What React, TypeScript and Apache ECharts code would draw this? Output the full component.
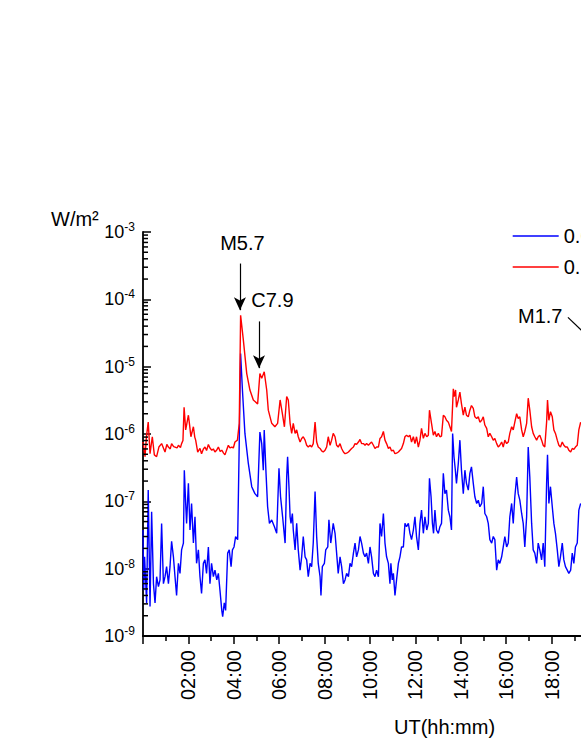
import React, { useEffect, useRef } from "react";
import * as echarts from "echarts";

const FONT = "'Liberation Sans', Arial, sans-serif";

// 0.1-0.8 nm (red)
const redTime = [
  0.0, 0.09, 0.15, 0.23, 0.31, 0.41, 0.5, 0.6, 0.7, 0.82, 0.97, 1.05, 1.12, 1.2, 1.26, 1.35, 1.41, 1.5, 1.56, 1.65,
  1.7, 1.76, 1.81, 1.88, 2.0, 2.06, 2.11, 2.22, 2.28, 2.32, 2.41, 2.51, 2.58, 2.66, 2.73, 2.8, 2.88, 2.95, 3.03, 3.1,
  3.17, 3.25, 3.32, 3.4, 3.47, 3.55, 3.61, 3.7, 3.76, 3.83, 3.91, 3.98, 4.05, 4.16, 4.24, 4.3, 4.42, 4.57, 4.71, 4.86,
  5.05, 5.15, 5.23, 5.34, 5.45, 5.52, 5.67, 5.81, 5.93, 6.04, 6.14, 6.23, 6.33, 6.4, 6.48, 6.55, 6.62, 6.7, 6.77, 6.84,
  6.92, 6.99, 7.06, 7.14, 7.21, 7.28, 7.36, 7.43, 7.5, 7.58, 7.65, 7.72, 7.8, 7.87, 7.94, 8.02, 8.09, 8.16, 8.24, 8.31,
  8.38, 8.46, 8.53, 8.6, 8.68, 8.75, 8.83, 8.9, 8.97, 9.05, 9.12, 9.19, 9.27, 9.34, 9.41, 9.49, 9.56, 9.63, 9.71, 9.78,
  9.85, 9.93, 10.0, 10.07, 10.15, 10.22, 10.29, 10.37, 10.44, 10.51, 10.59, 10.66, 10.73, 10.81, 10.88, 10.95, 11.03, 11.1, 11.17, 11.25,
  11.32, 11.39, 11.47, 11.54, 11.61, 11.69, 11.76, 11.83, 11.91, 11.98, 12.05, 12.13, 12.2, 12.27, 12.35, 12.42, 12.5, 12.57, 12.62, 12.71,
  12.79, 12.86, 12.93, 13.01, 13.08, 13.15, 13.23, 13.3, 13.37, 13.45, 13.52, 13.59, 13.67, 13.71, 13.77, 13.81, 13.89, 13.96, 14.03, 14.11,
  14.18, 14.25, 14.33, 14.4, 14.47, 14.55, 14.62, 14.7, 14.77, 14.84, 14.92, 14.99, 15.06, 15.14, 15.21, 15.28, 15.36, 15.43, 15.5, 15.58,
  15.65, 15.72, 15.8, 15.87, 15.94, 16.02, 16.09, 16.16, 16.24, 16.31, 16.38, 16.46, 16.53, 16.6, 16.68, 16.75, 16.82, 16.9, 16.97, 17.04,
  17.12, 17.19, 17.26, 17.34, 17.41, 17.48, 17.56, 17.63, 17.7, 17.78, 17.82, 17.88, 17.95, 18.03, 18.1, 18.17, 18.25, 18.32, 18.39, 18.47,
  18.54, 18.61, 18.69, 18.76, 18.84, 18.91, 18.98, 19.05, 19.13, 19.2, 19.28,
];
const redFlux = [
  7.6e-7, 4.6e-7, 9e-7, 1.5e-6, 5.1e-7, 9.1e-7, 4.9e-7, 4.6e-7, 6.4e-7, 7.2e-7, 5.4e-7, 7e-7, 6.4e-7, 6e-7, 7.2e-7, 6.5e-7, 6.4e-7, 6.2e-7, 6.8e-7, 6.3e-7,
  7.2e-7, 8e-7, 2.5e-6, 1.15e-6, 1.9e-6, 1.3e-6, 9.1e-7, 1.28e-6, 9e-7, 8.1e-7, 5.4e-7, 6.1e-7, 5.1e-7, 6e-7, 6.4e-7, 5.7e-7, 7e-7, 6.2e-7, 5.75e-7, 6e-7,
  5.4e-7, 5.8e-7, 6.4e-7, 5.5e-7, 5.75e-7, 5.2e-7, 4.9e-7, 6e-7, 6.8e-7, 6.2e-7, 6.4e-7, 6.2e-7, 7.6e-7, 8.1e-7, 1.44e-6, 5.8e-5, 2.5e-5, 7.9e-6, 4.5e-6, 3.2e-6,
  2.8e-6, 7.9e-6, 6.7e-6, 8.4e-6, 4.5e-6, 2.26e-6, 1.44e-6, 1.28e-6, 1.44e-6, 3.2e-6, 2.0e-6, 1.28e-6, 3.6e-6, 3.2e-6, 1.44e-6, 1.02e-6, 1.44e-6, 1.02e-6, 1.15e-6, 9.1e-7,
  7.6e-7, 8.6e-7, 9.1e-7, 8.1e-7, 6.8e-7, 6.4e-7, 6.8e-7, 6.4e-7, 7.2e-7, 1.5e-6, 7.6e-7, 6.4e-7, 6.1e-7, 5.6e-7, 5.4e-7, 5.75e-7, 6.4e-7, 9.1e-7, 6.8e-7, 8.1e-7,
  1.02e-6, 9.1e-7, 6.8e-7, 6.4e-7, 7.2e-7, 6.1e-7, 5.4e-7, 5.1e-7, 5.2e-7, 5.4e-7, 5.75e-7, 6.1e-7, 6.4e-7, 7.2e-7, 7e-7, 7.6e-7, 8.3e-7, 7.2e-7, 7.2e-7, 6.8e-7,
  7.2e-7, 6.8e-7, 7.2e-7, 7.6e-7, 6.8e-7, 6.1e-7, 6.4e-7, 6.4e-7, 8.6e-7, 9.1e-7, 1.09e-6, 8.1e-7, 7.2e-7, 6.1e-7, 6.4e-7, 5.6e-7, 5.75e-7, 5.1e-7, 5.2e-7, 5.4e-7,
  5.75e-7, 6.1e-7, 7.2e-7, 9.1e-7, 9.6e-7, 9.1e-7, 9.6e-7, 7.6e-7, 9.1e-7, 7.2e-7, 9.1e-7, 6.4e-7, 8.1e-7, 1.21e-6, 8.6e-7, 1.02e-6, 9.1e-7, 9.6e-7, 2.26e-6, 1.44e-6,
  9.6e-7, 1.09e-6, 9.1e-7, 1.02e-6, 9.1e-7, 9.3e-7, 1.9e-6, 1.8e-6, 1.6e-6, 1.5e-6, 1.28e-6, 1.09e-6, 4.7e-6, 3.6e-6, 4.5e-6, 2.5e-6, 3.2e-6, 4.2e-6, 2.8e-6, 1.9e-6,
  2.5e-6, 1.9e-6, 1.8e-6, 2.26e-6, 2.65e-6, 2.4e-6, 1.8e-6, 1.7e-6, 1.8e-6, 1.5e-6, 1.6e-6, 1.8e-6, 1.36e-6, 1.21e-6, 9.1e-7, 1.02e-6, 9.1e-7, 8.1e-7, 8.6e-7, 7.2e-7,
  6.4e-7, 6.8e-7, 7.6e-7, 6.4e-7, 8.1e-7, 7.2e-7, 7.6e-7, 1.02e-6, 1.28e-6, 1.15e-6, 1.5e-6, 2.0e-6, 1.7e-6, 1.8e-6, 1.15e-6, 9.1e-7, 1.09e-6, 1.44e-6, 3.4e-6, 2.26e-6,
  1.28e-6, 1.02e-6, 9.1e-7, 8.1e-7, 9.1e-7, 9.6e-7, 8.1e-7, 6.8e-7, 6.4e-7, 1.5e-6, 3.2e-6, 1.6e-6, 2.15e-6, 1.8e-6, 1.15e-6, 1.02e-6, 8.1e-7, 6.8e-7, 6.4e-7, 7.6e-7,
  6.8e-7, 6.4e-7, 6.4e-7, 5.75e-7, 5.4e-7, 6.1e-7, 5.9e-7, 6.4e-7, 6.8e-7, 1.15e-6, 1.5e-6,
];

// 0.05-0.4 nm (blue)
const blueTime = [
  0.0, 0.03, 0.07, 0.16, 0.23, 0.31, 0.38, 0.46, 0.53, 0.6, 0.68, 0.75, 0.82, 0.9, 0.97, 1.04, 1.12, 1.19, 1.26, 1.34,
  1.41, 1.48, 1.56, 1.63, 1.7, 1.78, 1.82, 1.88, 1.92, 2.0, 2.07, 2.14, 2.22, 2.29, 2.36, 2.44, 2.51, 2.58, 2.66, 2.73,
  2.8, 2.88, 2.95, 3.02, 3.1, 3.17, 3.25, 3.32, 3.39, 3.47, 3.51, 3.58, 3.64, 3.73, 3.8, 3.88, 3.94, 4.01, 4.08, 4.17,
  4.23, 4.3, 4.38, 4.49, 4.64, 4.79, 4.93, 5.05, 5.15, 5.23, 5.3, 5.34, 5.42, 5.49, 5.57, 5.67, 5.79, 5.89, 5.99, 6.06,
  6.15, 6.26, 6.33, 6.37, 6.43, 6.48, 6.52, 6.58, 6.62, 6.7, 6.77, 6.84, 6.92, 6.99, 7.06, 7.14, 7.21, 7.28, 7.36, 7.43,
  7.5, 7.58, 7.65, 7.72, 7.8, 7.84, 7.9, 7.99, 8.05, 8.14, 8.19, 8.27, 8.31, 8.38, 8.46, 8.53, 8.6, 8.68, 8.75, 8.83,
  8.9, 8.97, 9.05, 9.12, 9.19, 9.27, 9.34, 9.41, 9.49, 9.56, 9.63, 9.71, 9.78, 9.85, 9.93, 10.0, 10.07, 10.15, 10.22, 10.29,
  10.37, 10.44, 10.51, 10.59, 10.66, 10.73, 10.81, 10.88, 10.92, 10.98, 11.03, 11.1, 11.17, 11.25, 11.32, 11.39, 11.47, 11.54, 11.61, 11.69,
  11.76, 11.83, 11.91, 11.98, 12.05, 12.13, 12.2, 12.27, 12.35, 12.42, 12.5, 12.57, 12.62, 12.69, 12.75, 12.8, 12.86, 12.93, 13.01, 13.08,
  13.15, 13.23, 13.3, 13.37, 13.45, 13.52, 13.59, 13.64, 13.7, 13.76, 13.81, 13.89, 13.96, 14.03, 14.11, 14.18, 14.25, 14.33, 14.4, 14.47,
  14.55, 14.62, 14.7, 14.77, 14.84, 14.92, 14.99, 15.06, 15.14, 15.21, 15.28, 15.36, 15.43, 15.5, 15.58, 15.65, 15.72, 15.8, 15.87, 15.94,
  16.02, 16.09, 16.16, 16.24, 16.31, 16.38, 16.46, 16.53, 16.6, 16.68, 16.75, 16.82, 16.9, 16.97, 17.04, 17.12, 17.19, 17.26, 17.34, 17.41,
  17.48, 17.56, 17.63, 17.7, 17.78, 17.82, 17.88, 17.95, 18.03, 18.1, 18.17, 18.25, 18.32, 18.39, 18.47, 18.54, 18.61, 18.69, 18.76, 18.84,
  18.91, 18.98, 19.05, 19.13, 19.2, 19.28,
];
const blueFlux = [
  3.75e-8, 4.8e-9, 1.5e-8, 3.1e-9, 1.47e-7, 2.75e-9, 7.0e-8, 6.0e-9, 3.1e-9, 7.6e-9, 5.4e-9, 6.8e-9, 4.7e-8, 6.0e-9, 7.6e-9, 1.07e-8, 6.0e-9, 1.07e-8, 2.55e-8, 1.5e-8,
  7.6e-9, 4.0e-9, 1.2e-8, 8.5e-9, 1.9e-8, 2.4e-8, 2.9e-7, 9.3e-8, 4.7e-8, 1.85e-7, 3.75e-8, 9.3e-8, 2.4e-8, 5.9e-8, 1.2e-8, 1.9e-8, 7.6e-9, 4.3e-9, 1.2e-8, 1.35e-8,
  8.5e-9, 2.1e-8, 6.0e-9, 1.2e-8, 7.6e-9, 9.5e-9, 6.8e-9, 8.5e-9, 4.8e-9, 2.4e-9, 1.94e-9, 3.1e-9, 2.4e-9, 1.7e-8, 1.9e-8, 1.07e-8, 1.9e-8, 2.1e-8, 3.0e-8, 2.7e-8,
  4.6e-7, 1.57e-5, 4.5e-6, 1.02e-6, 3.65e-7, 1.65e-7, 1.3e-7, 1.17e-7, 1.07e-6, 7.2e-7, 2.9e-7, 1.15e-6, 2.6e-7, 8.3e-8, 4.7e-8, 5.3e-8, 4.2e-8, 3.35e-8, 3.1e-7, 1.17e-7,
  5.9e-8, 2.4e-8, 2.3e-7, 4.6e-7, 1.65e-7, 5.9e-8, 4.7e-8, 6.6e-8, 3.75e-8, 1.9e-8, 4.7e-8, 1.9e-8, 9.5e-9, 1.5e-8, 3.0e-8, 1.5e-8, 1.35e-8, 7.6e-9, 1.2e-8, 1.07e-8,
  2.4e-8, 1.4e-7, 3.0e-8, 1.2e-8, 7.6e-9, 4.0e-9, 1.07e-8, 1.2e-8, 1.9e-8, 2.1e-8, 5.3e-8, 2.4e-8, 3.0e-8, 4.7e-8, 3.35e-8, 1.7e-8, 8.5e-9, 1.5e-8, 1.07e-8, 6.0e-9,
  6.8e-9, 8.5e-9, 7.6e-9, 1.2e-8, 1.07e-8, 1.7e-8, 2.4e-8, 1.5e-8, 1.9e-8, 3.0e-8, 2.4e-8, 1.7e-8, 1.5e-8, 1.7e-8, 1.2e-8, 2.1e-8, 1.5e-8, 8.5e-9, 7.6e-9, 9.5e-9,
  7.6e-9, 4.7e-8, 3.0e-8, 6.6e-8, 2.4e-8, 1.5e-8, 1.2e-8, 6.0e-9, 1.2e-8, 6.8e-9, 8.5e-9, 4.0e-9, 6.8e-9, 1.2e-8, 1.5e-8, 2.1e-8, 2.1e-8, 4.7e-8, 4.2e-8, 4.7e-8,
  3.35e-8, 2.7e-8, 3.75e-8, 5.9e-8, 3.0e-8, 1.9e-8, 4.7e-8, 7.4e-8, 3.35e-8, 5.9e-8, 3.75e-8, 4.7e-8, 2.2e-7, 1.17e-7, 4.7e-8, 3.35e-8, 7.4e-8, 3.75e-8, 3.35e-8, 4.2e-8,
  4.7e-8, 2.6e-7, 1.3e-7, 1.47e-7, 7.4e-8, 5.9e-8, 3.75e-8, 1.02e-6, 4.6e-7, 2.9e-7, 1.85e-7, 3.65e-7, 8.1e-7, 2.9e-7, 1.3e-7, 2.9e-7, 1.85e-7, 1.47e-7, 2.6e-7, 3.25e-7,
  1.85e-7, 1.17e-7, 9.3e-8, 1.04e-7, 8.3e-8, 9.3e-8, 1.65e-7, 6.6e-8, 5.9e-8, 4.7e-8, 2.7e-8, 2.4e-8, 3.0e-8, 2.7e-8, 9.5e-9, 1.35e-8, 1.2e-8, 1.5e-8, 2.1e-8, 3.0e-8,
  2.1e-8, 2.4e-8, 5.9e-8, 9.3e-8, 4.7e-8, 1.17e-7, 2.3e-7, 1.3e-7, 1.04e-7, 6.6e-8, 4.7e-8, 2.1e-8, 5.9e-8, 6.4e-7, 2.3e-7, 4.7e-8, 1.9e-8, 1.7e-8, 1.2e-8, 2.4e-8,
  1.9e-8, 1.35e-8, 2.4e-8, 1.07e-8, 1.85e-7, 4.9e-7, 9.3e-8, 1.65e-7, 8.3e-8, 4.7e-8, 3.35e-8, 1.9e-8, 1.07e-8, 1.5e-8, 2.4e-8, 1.35e-8, 1.07e-8, 9.5e-9, 8.5e-9, 9.5e-9,
  1.7e-8, 1.2e-8, 2.1e-8, 2.4e-8, 7.4e-8, 9.3e-8,
];

// Flare annotations: label, label position [h, flux]
const flareLabels = ["M5.7", "C7.9", "M1.7"];
const flareLabelPos = [
  [4.38, 6.8e-4],
  [5.7, 9.7e-5],
  [17.5, 5.6e-5],
];
// Arrows/pointers: start [h, flux] -> end [h, flux]
const flarePointerStart = [
  [4.27, 3.4e-4],
  [5.11, 4.7e-5],
  [18.72, 5.4e-5],
];
const flarePointerEnd = [
  [4.27, 6.9e-5],
  [5.11, 9.5e-6],
  [19.91, 2.23e-5],
];
const flarePointerArrow = [true, true, false];

const seriesNames = ["0.05-0.4 nm", "0.1-0.8 nm"];

export default function App() {
  const ref = useRef<HTMLDivElement>(null);

  useEffect(() => {
    if (!ref.current) return;
    const chart = echarts.init(ref.current, null, { renderer: "svg" });

    const minorVals: number[][] = [];
    for (let e = -9; e < -3; e++) {
      for (let k = 2; k <= 9; k++) minorVals.push([0, k * Math.pow(10, e)]);
    }

    const blueData = blueTime.map((t, i) => [t, blueFlux[i]]);
    const redData = redTime.map((t, i) => [t, redFlux[i]]);

    const pointerData = flarePointerStart.map((s, i) => [
      { coord: s, symbol: "none" },
      { coord: flarePointerEnd[i], symbol: flarePointerArrow[i] ? "arrow" : "none" },
    ]);

    const option: any = {
      animation: false,
      backgroundColor: "#ffffff",
      textStyle: { fontFamily: FONT },
      grid: { left: 143, top: 232, width: 24 * 22.7, height: 404, containLabel: false },
      legend: {
        data: seriesNames,
        orient: "vertical",
        left: 512,
        top: 226,
        padding: 0,
        itemWidth: 46,
        itemHeight: 14,
        itemGap: 11,
        itemStyle: { opacity: 0 },
        lineStyle: { width: 1.4 },
        textStyle: { fontSize: 20, color: "#000", fontFamily: FONT },
      },
      xAxis: {
        type: "value",
        min: 0,
        max: 24,
        interval: 2,
        axisLine: { show: true, onZero: false, lineStyle: { color: "#000", width: 1.8 } },
        axisTick: { show: true, inside: false, length: 8, lineStyle: { color: "#000", width: 1.5 } },
        minorTick: { show: true, splitNumber: 2, length: 5, lineStyle: { color: "#000", width: 1.5 } },
        splitLine: { show: false },
        axisLabel: {
          rotate: 90,
          margin: 14,
          fontSize: 20,
          color: "#000",
          fontFamily: FONT,
          formatter: (v: number) => (v === 0 ? "" : String(v).padStart(2, "0") + ":00"),
        },
      },
      yAxis: {
        type: "log",
        logBase: 10,
        min: 1e-9,
        max: 1e-3,
        splitNumber: 6,
        axisLine: { show: true, lineStyle: { color: "#000", width: 1.8 } },
        axisTick: { show: true, inside: true, length: 8, lineStyle: { color: "#000", width: 1.5 } },
        splitLine: { show: false },
        axisLabel: {
          margin: 8,
          fontSize: 18,
          lineHeight: 22,
          color: "#000",
          fontFamily: FONT,
          formatter: (v: number) => "10{sup|" + Math.round(Math.log10(v)) + "}",
          rich: {
            sup: { fontSize: 12, lineHeight: 12, verticalAlign: "top", color: "#000", fontFamily: FONT },
          },
        },
      },
      graphic: [
        {
          type: "text",
          x: 51,
          y: 219,
          style: { text: "W/m²", fontSize: 20, fontFamily: FONT, fill: "#000", verticalAlign: "middle" },
        },
        {
          type: "text",
          x: 394,
          y: 727,
          style: { text: "UT(hh:mm)", fontSize: 20, fontFamily: FONT, fill: "#000", verticalAlign: "middle" },
        },
      ],
      series: [
        {
          name: seriesNames[0],
          type: "line",
          data: blueData,
          symbol: "none",
          showSymbol: false,
          lineStyle: { color: "#0000ff", width: 1.4 },
          itemStyle: { color: "#0000ff" },
          z: 2,
        },
        {
          name: seriesNames[1],
          type: "line",
          data: redData,
          symbol: "none",
          showSymbol: false,
          lineStyle: { color: "#ff0000", width: 1.4 },
          itemStyle: { color: "#ff0000" },
          z: 3,
          markLine: {
            silent: true,
            symbolSize: [9, 13],
            lineStyle: { color: "#000", width: 1.2, type: "solid" },
            itemStyle: { color: "#000" },
            label: { show: false },
            emphasis: { disabled: true },
            data: pointerData,
          },
          markPoint: {
            silent: true,
            symbol: "circle",
            symbolSize: 0,
            itemStyle: { color: "transparent" },
            label: {
              show: true,
              position: "inside",
              color: "#000",
              fontSize: 20,
              fontFamily: FONT,
              formatter: (p: any) => p.name,
            },
            data: flareLabels.map((n, i) => ({ name: n, coord: flareLabelPos[i] })),
          },
        },
        {
          name: "minorTicks",
          type: "custom",
          silent: true,
          clip: false,
          z: 5,
          data: minorVals,
          encode: { x: 0, y: 1 },
          renderItem: (params: any, api: any) => {
            const p = api.coord([api.value(0), api.value(1)]);
            return {
              type: "line",
              shape: { x1: p[0], y1: p[1], x2: p[0] + 5, y2: p[1] },
              style: { stroke: "#000", lineWidth: 1.5 },
            };
          },
        },
      ],
    };

    chart.setOption(option);
    return () => chart.dispose();
  }, []);

  return (
    <div style={{ position: "fixed", left: 0, top: 0, width: 581, height: 752, overflow: "hidden", background: "#fff" }}>
      <div ref={ref} style={{ width: 720, height: 752 }} />
    </div>
  );
}
